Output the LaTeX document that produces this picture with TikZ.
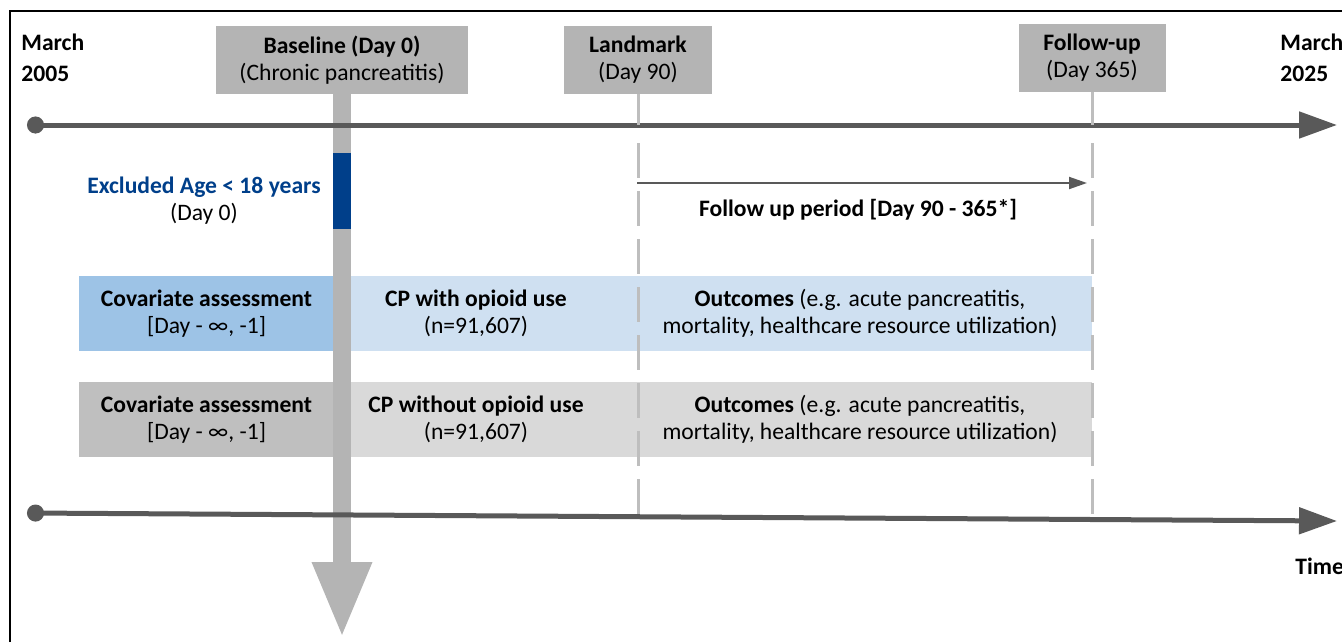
\documentclass[tikz,border=0pt]{standalone}
\usepackage{fontspec}
\setmainfont{Carlito}
\usetikzlibrary{arrows.meta,positioning}
\definecolor{axisgray}{RGB}{89,89,89}
\definecolor{boxgray}{RGB}{180,180,180}
\definecolor{tickgray}{RGB}{190,190,190}
\definecolor{covblue}{RGB}{157,195,230}
\definecolor{cpblue}{RGB}{207,224,241}
\definecolor{covgray}{RGB}{191,191,191}
\definecolor{cpgray}{RGB}{217,217,217}
\definecolor{exblue}{RGB}{0,63,138}
\tikzset{
    datebox/.style={fill=boxgray, minimum height=34pt, inner sep=0pt, align=center},
    datetxt/.style={font=\fontsize{11.8}{15.5}\selectfont\bfseries, align=left, inner sep=0pt},
    rowbox/.style={minimum height=37.5pt, inner sep=0pt},
    rowtxt/.style={align=center, inner sep=0pt},
    axis/.style={axisgray, line width=2.5pt, {Circle[length=8.5pt]}-{Triangle[length=19pt,width=13pt]}},
    tickline/.style={tickgray, line width=1.5pt},
    dashline/.style={tickline, dash pattern=on 17.5pt off 6.5pt},
}

\begin{document}
\begin{tikzpicture}[x=0.5pt, y=-0.5pt, font=\fontsize{11.8}{13.5}\selectfont]
    \useasboundingbox (0,0) rectangle (1342,642);
    \clip (0,0) rectangle (1342,642);
    \draw[line width=1pt] (10,642) -- (10,11) -- (1342,11);

    \coordinate (t0) at (27,125);
    \coordinate (t1) at (1337,125);
    \coordinate (b0) at (27,513);
    \coordinate (b1) at (1337,521);
    \coordinate (d0) at (0,143);
    \coordinate (d1) at (0,515);
    \coordinate (barend) at (342,638);
    \coordinate (fa) at (637,183);
    \coordinate (fb) at (1087,183);

    \node[datebox, minimum width=126pt] (base) at (342,60) {\textbf{Baseline (Day 0)}\\(Chronic pancreatitis)};
    \node[datebox, minimum width=74pt] (land) at (638,60) {\textbf{Landmark}\\(Day 90)};
    \node[datebox, minimum width=73.5pt] (fup) at (1092,58) {\textbf{Follow-up}\\(Day 365)};
    \node[datetxt, anchor=north west] (start) at (21,34) {March\\2005};
    \node[datetxt, anchor=north west] (stop) at (1280,34) {March\\2025};

    % study groups
    \node[rowbox, fill=covblue, minimum width=127.5pt] (cov1) at (206.5,313.5) {};
    \node[rowbox, fill=cpblue, minimum width=378.5pt, right=0pt of cov1] (grp1) {};
    \node[rowbox, fill=covgray, minimum width=127.5pt] (cov2) at (206.5,419.5) {};
    \node[rowbox, fill=cpgray, minimum width=378.5pt, right=0pt of cov2] (grp2) {};

    \draw[boxgray, line width=9pt, -{Triangle[length=38pt,width=27.5pt]}] (base.south) -- (barend);
    \node[fill=exblue, minimum width=9pt, minimum height=38pt, inner sep=0pt] (excl) at (342,191) {};

    \draw[axis] (t0) -- (t1);
    \draw[axis] (b0) -- (b1);

    \draw[tickline] (land.south) -- (land.south |- t0);
    \draw[tickline] (fup.south) -- (fup.south |- t0);
    \draw[dashline] (land.south |- d0) -- (land.south |- d1);
    \draw[dashline] (fup.south |- d0) -- (fup.south |- d1);

    \draw[axisgray, line width=1pt, -{Triangle[length=9pt,width=6pt]}] (fa) -- (fb);
    \node[font=\fontsize{11.8}{13.5}\selectfont\bfseries] (fulbl) at (858,210) {Follow up period [Day 90 - 365*]};

    \node[rowtxt] (extxt) at (204,201) {\textcolor{exblue}{\textbf{Excluded Age < 18 years}}\\(Day 0)};

    \node[rowtxt] (cov1txt) at (cov1) {\textbf{Covariate assessment}\\{}[Day - ∞, -1]};
    \node[rowtxt] (grp1txt) at (476,313.5) {\textbf{CP with opioid use}\\(n=91,607)};
    \node[rowtxt] (out1txt) at (860,313.5) {\textbf{Outcomes} (e.g. acute pancreatitis,\\mortality, healthcare resource utilization)};
    \node[rowtxt] (cov2txt) at (cov2) {\textbf{Covariate assessment}\\{}[Day - ∞, -1]};
    \node[rowtxt] (grp2txt) at (476,419.5) {\textbf{CP without opioid use}\\(n=91,607)};
    \node[rowtxt] (out2txt) at (860,419.5) {\textbf{Outcomes} (e.g. acute pancreatitis,\\mortality, healthcare resource utilization)};

    \node[font=\fontsize{11.8}{13.5}\selectfont\bfseries, anchor=north west, inner sep=0pt] (time) at (1295,558) {Time};
\end{tikzpicture}
\end{document}
